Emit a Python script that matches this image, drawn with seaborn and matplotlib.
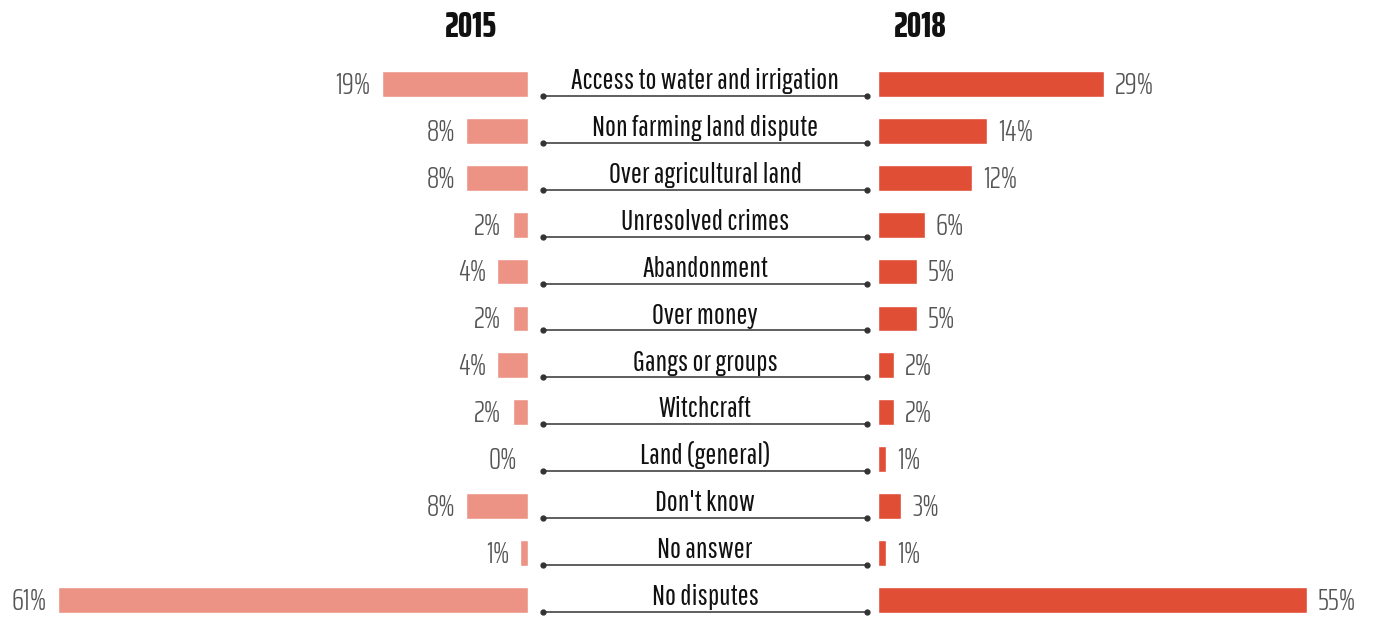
import matplotlib
matplotlib.use("Agg")
import matplotlib.pyplot as plt
import seaborn as sns
import pandas as pd

categories = ["Access to water and irrigation", "Non farming land dispute", "Over agricultural land",
              "Unresolved crimes", "Abandonment", "Over money", "Gangs or groups", "Witchcraft",
              "Land (general)", "Don't know", "No answer", "No disputes"]
values_2015 = [19, 8, 8, 2, 4, 2, 4, 2, 0, 8, 1, 61]
values_2018 = [29, 14, 12, 6, 5, 5, 2, 2, 1, 3, 1, 55]
labels_2015 = ["19%", "8%", "8%", "2%", "4%", "2%", "4%", "2%", "0%", "8%", "1%", "61%"]
labels_2018 = ["29%", "14%", "12%", "6%", "5%", "5%", "2%", "2%", "1%", "3%", "1%", "55%"]
years = ["2015", "2018"]

sns.set_theme(style="white")
plt.rcParams["font.family"] = ["Pathway Gothic One", "DejaVu Sans"]

CAT_FONT = ["Pathway Gothic One", "DejaVu Sans"]
PCT_FONT = ["Saira ExtraCondensed", "DejaVu Sans"]
TITLE_FONT = ["Saira ExtraCondensed", "DejaVu Sans"]

W, H = 1376, 617
fig = plt.figure(figsize=(W / 100, H / 100), dpi=100)

top_px, row_px = 60.5, 46.9
n = len(categories)
ax_b = (H - (top_px + n * row_px)) / H
ax_h = n * row_px / H

left_x0, left_x1 = 0, 528
right_x0, right_x1 = 878, W

axL = fig.add_axes([left_x0 / W, ax_b, (left_x1 - left_x0) / W, ax_h])
axM = fig.add_axes([left_x1 / W, ax_b, (right_x0 - left_x1) / W, ax_h])
axR = fig.add_axes([right_x0 / W, ax_b, (right_x1 - right_x0) / W, ax_h])

df = pd.DataFrame({"cat": categories, "v15": values_2015, "v18": values_2018})
c15, c18 = "#EC9385", "#E04E36"
sns.barplot(data=df, y="cat", x="v15", ax=axL, color=c15, width=0.55, saturation=1, orient="h")
sns.barplot(data=df, y="cat", x="v18", ax=axR, color=c18, width=0.55, saturation=1, orient="h")

axL.set_xlim((left_x1 - left_x0) / 7.7, 0)
axR.set_xlim(0, (right_x1 - right_x0) / 7.8)

lab_kw = dict(fontsize=22, color="#555555", va="center", family=PCT_FONT, fontweight=300)
for i, (v, t) in enumerate(zip(values_2015, labels_2015)):
    axL.annotate(t, (v, i), xytext=(-8, -1), textcoords="offset points", ha="right", **lab_kw)
for i, (v, t) in enumerate(zip(values_2018, labels_2018)):
    axR.annotate(t, (v, i), xytext=(8, -1), textcoords="offset points", ha="left", **lab_kw)

axM.set_ylim(n - 0.5, -0.5)
axM.set_xlim(0, 1)
for i, c in enumerate(categories):
    axM.text(0.506, i + 0.11, c, ha="center", va="baseline", fontsize=21, color="#111111", family=CAT_FONT)
    axM.plot([0.043, 0.969], [i + 0.256, i + 0.256], color="#333333", lw=1.1,
             marker="o", markersize=3.5, markevery=[0, 1])

for ax in (axL, axM, axR):
    ax.set_axis_off()

for x, y in zip([471, 920], years):
    fig.text(x / W, 1 - 27 / H, y, ha="center", va="center", fontsize=26, fontweight=800,
             color="#111111", family=TITLE_FONT)

fig.savefig("out.png", dpi=100, facecolor="white")
